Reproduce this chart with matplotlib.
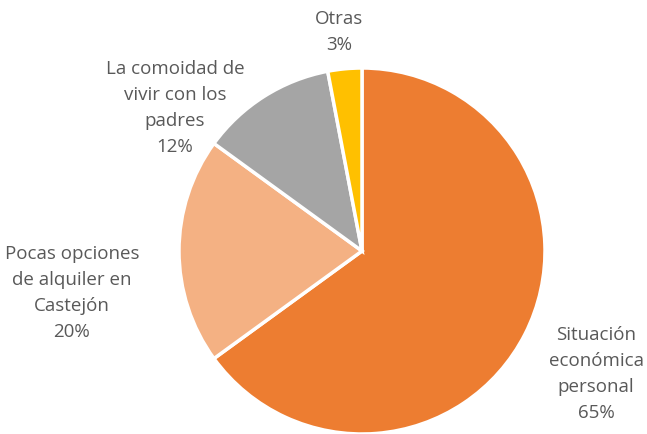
import matplotlib
matplotlib.use("Agg")
import matplotlib.pyplot as plt

categories = ["Situación\neconómica\npersonal", "Pocas opciones\nde alquiler en\nCastejón",
              "La comoidad de\nvivir con los\npadres", "Otras"]
values = [65, 20, 12, 3]
colors = ["#ED7D31", "#F4B183", "#A5A5A5", "#FFC000"]

W, H = 647, 435
cx, cy, R = 362, 252, 183  # pixel center (from top) and radius

fig = plt.figure(figsize=(W / 100, H / 100), dpi=100)
ax = fig.add_axes([0, 0, 1, 1])

ax.pie(values, colors=colors, startangle=90, counterclock=False, radius=1.0,
       wedgeprops=dict(edgecolor="white", linewidth=2.5), frame=True)
ax.set_xlim(-cx / R, (W - cx) / R)
ax.set_ylim(-(H - cy) / R, cy / R)
ax.set_aspect("equal")
ax.axis("off")

# label centers in pixels (x, y from top)
label_px = [(596, 374), (72, 293), (175, 108), (339, 32)]
for cat, v, (px, py) in zip(categories, values, label_px):
    x = (px - cx) / R
    y = (cy - py) / R
    ax.text(x, y, f"{cat}\n{v}%", ha="center", va="center", fontsize=13.5,
            color="#595959", family="Open Sans", linespacing=1.55)

fig.savefig("out.png", dpi=100)
